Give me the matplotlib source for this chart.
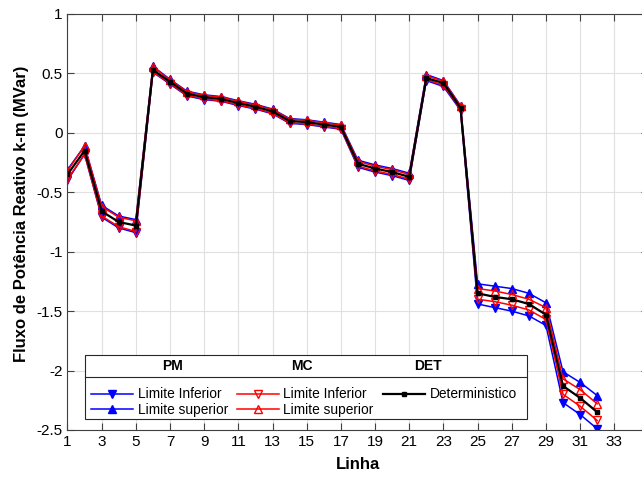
import numpy as np
import matplotlib
matplotlib.use("Agg")
from matplotlib import pyplot as plt
from matplotlib.lines import Line2D
from matplotlib.patches import Rectangle

plt.rcParams['font.family'] = ['Liberation Sans', 'DejaVu Sans']

linha = np.arange(1, 33)

det = [-0.35, -0.15, -0.66, -0.75, -0.78, 0.53, 0.43, 0.33, 0.30, 0.285, 0.25, 0.22,
       0.18, 0.10, 0.09, 0.07, 0.05, -0.26, -0.30, -0.33, -0.37, 0.46, 0.42, 0.21,
       -1.35, -1.38, -1.40, -1.44, -1.53, -2.13, -2.23, -2.35]
pm_inf = [-0.40, -0.18, -0.71, -0.80, -0.84, 0.51, 0.41, 0.31, 0.28, 0.265, 0.23, 0.20,
          0.16, 0.08, 0.07, 0.05, 0.03, -0.29, -0.33, -0.36, -0.40, 0.44, 0.39, 0.19,
          -1.44, -1.47, -1.50, -1.54, -1.62, -2.27, -2.37, -2.49]
pm_sup = [-0.31, -0.11, -0.61, -0.70, -0.73, 0.56, 0.45, 0.35, 0.32, 0.305, 0.27, 0.24,
          0.20, 0.12, 0.11, 0.09, 0.07, -0.23, -0.27, -0.30, -0.34, 0.49, 0.44, 0.23,
          -1.27, -1.29, -1.31, -1.35, -1.43, -2.01, -2.10, -2.21]
mc_inf = [-0.39, -0.18, -0.70, -0.79, -0.83, 0.515, 0.415, 0.315, 0.285, 0.27, 0.235, 0.205,
          0.165, 0.085, 0.075, 0.055, 0.035, -0.28, -0.32, -0.35, -0.39, 0.45, 0.40, 0.20,
          -1.40, -1.42, -1.45, -1.49, -1.57, -2.20, -2.30, -2.42]
mc_sup = [-0.32, -0.11, -0.62, -0.71, -0.74, 0.555, 0.445, 0.345, 0.315, 0.30, 0.265, 0.235,
          0.195, 0.115, 0.105, 0.085, 0.065, -0.24, -0.28, -0.31, -0.35, 0.48, 0.435, 0.225,
          -1.31, -1.33, -1.36, -1.40, -1.47, -2.07, -2.16, -2.28]

fig = plt.figure(figsize=(6.42, 4.79), dpi=100)
ax = fig.add_axes([0.1051, 0.1023, 0.905, 0.8685])

ms = 5.8
l1, = ax.plot(linha, pm_inf, color='blue', lw=1.1, marker='v', ms=ms, mfc='blue', mec='blue')
l2, = ax.plot(linha, pm_sup, color='blue', lw=1.1, marker='^', ms=ms, mfc='blue', mec='blue')
l3, = ax.plot(linha, mc_inf, color='red', lw=1.1, marker='v', ms=ms, mfc='none', mec='red')
l4, = ax.plot(linha, mc_sup, color='red', lw=1.1, marker='^', ms=ms, mfc='none', mec='red')
l5, = ax.plot(linha, det, color='black', lw=1.6, marker='s', ms=2.5, mfc='black', mec='black')

ax.set_xlim(1, 35)
ax.set_ylim(-2.5, 1)
ax.set_xticks(np.arange(1, 34, 2))
ax.set_yticks([-2.5, -2, -1.5, -1, -0.5, 0, 0.5, 1])
ax.set_yticklabels(['-2.5', '-2', '-1.5', '-1', '-0.5', '0', '0.5', '1'])
ax.grid(True, color='0.88', lw=0.8)
ax.set_axisbelow(True)
ax.tick_params(direction='in', length=5, labelsize=11, top=True, right=True, color='0.25')
for s in ax.spines.values():
    s.set_color('0.25')
ax.set_xlabel('Linha', fontsize=12, fontweight='bold', labelpad=6)
ax.set_ylabel('Fluxo de Potência Reativo k-m (MVar)', fontsize=12, fontweight='bold')
ax.yaxis.set_label_coords(-0.067, 0.52)

# legend box with column headers
box = Rectangle((0.031, 0.0264), 0.7607, 0.1539, transform=ax.transAxes,
                facecolor='white', edgecolor='0.15', lw=0.8, zorder=5)
ax.add_patch(box)
ax.add_line(Line2D([0.031, 0.7917], [0.1274, 0.1274], transform=ax.transAxes,
                   color='0.15', lw=0.8, zorder=6))
for txt, xp in [('PM', 0.1815), ('MC', 0.4035), ('DET', 0.6204)]:
    ax.text(xp, 0.1538, txt, transform=ax.transAxes, ha='center', va='center',
            fontsize=10, fontweight='bold', zorder=7)

blank = Line2D([], [], color='none')
leg = ax.legend([l1, l2, l3, l4, l5, blank],
                ['Limite Inferior', 'Limite superior', 'Limite Inferior', 'Limite superior',
                 'Deterministico', ''],
                ncol=3, loc='lower left', bbox_to_anchor=(0.033, 0.022),
                frameon=False, fontsize=9.9, handlelength=3.1, handletextpad=0.3,
                columnspacing=0.65, labelspacing=0.1, borderpad=0.3, borderaxespad=0)
leg.set_zorder(8)

fig.savefig('out.png', dpi=100)
